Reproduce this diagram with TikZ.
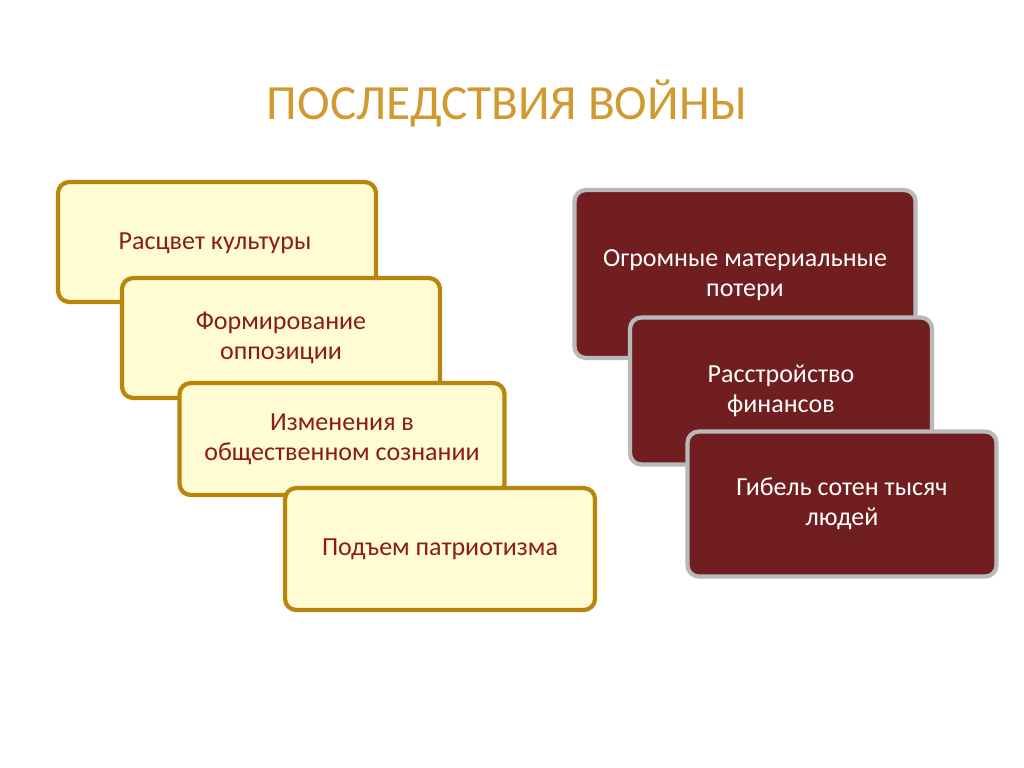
\documentclass[tikz,border=0pt]{standalone}
\usepackage{fontspec}
\setmainfont{Carlito}
\definecolor{gold}{HTML}{B8860B}
\definecolor{cream}{HTML}{FFFBD2}
\definecolor{wine}{HTML}{701E20}
\definecolor{redtext}{HTML}{8B1A1A}
\definecolor{titlegold}{HTML}{D09A30}
\tikzset{
	goodbox/.style={draw=gold, line width=3pt, fill=cream, rounded corners=8pt, align=center, text=redtext, font=\fontsize{18.5}{21.5}\selectfont},
	badbox/.style={draw=gray!55, line width=3pt, fill=wine, rounded corners=8pt, align=center, text=white, font=\fontsize{18.5}{21.5}\selectfont}
}
\begin{document}
\begin{tikzpicture}[x=0.025cm, y=-0.025cm]
	\useasboundingbox (0,0) rectangle (1024,768);
	
	\node[text=titlegold, font=\fontsize{35}{38}\selectfont] (title) at (507,103) {ПОСЛЕДСТВИЯ ВОЙНЫ};
	
	\node[goodbox, minimum width=318*0.025cm, minimum height=120*0.025cm] (culture) at (217,242) {};
	\node[text=redtext, font=\fontsize{18.5}{21.5}\selectfont] (culturetext) at (215,243) {Расцвет культуры};
	\node[goodbox, minimum width=318*0.025cm, minimum height=120*0.025cm] (opposition) at (281,338) {Формирование\\оппозиции};
	\node[goodbox, minimum width=325*0.025cm, minimum height=112*0.025cm] (mind) at (342,439) {Изменения в\\общественном сознании};
	\node[goodbox, minimum width=310*0.025cm, minimum height=122*0.025cm] (patriot) at (440,549) {Подъем патриотизма};
	
	\node[badbox, minimum width=341*0.025cm, minimum height=168*0.025cm] (losses) at (745,274) {};
	\node[text=white, font=\fontsize{18.5}{21.5}\selectfont, align=center] (lossestext) at (745,275) {Огромные материальные\\потери};
	\node[badbox, minimum width=302*0.025cm, minimum height=147*0.025cm] (finance) at (781,391) {Расстройство\\финансов};
	\node[badbox, minimum width=309*0.025cm, minimum height=145*0.025cm] (people) at (842,504) {Гибель сотен тысяч\\людей};
	
\end{tikzpicture}
\end{document}
